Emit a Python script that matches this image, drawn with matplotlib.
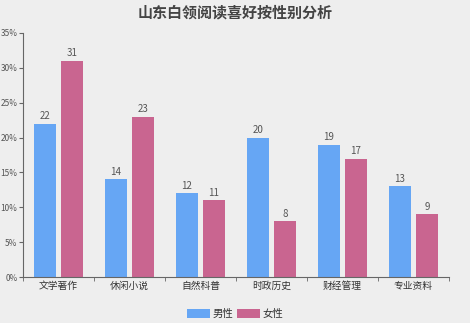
import matplotlib
matplotlib.use('Agg')
import matplotlib.pyplot as plt
import numpy as np

plt.rcParams['font.family'] = ['Noto Sans CJK SC', 'DejaVu Sans']

# reading preference by gender (%)
categories = ['文学著作', '休闲小说', '自然科普', '时政历史', '财经管理', '专业资料']
male = [22, 14, 12, 20, 19, 13]
female = [31, 23, 11, 8, 17, 9]
yticks = [0, 5, 10, 15, 20, 25, 30, 35]

c_male = '#66a6f4'
c_female = '#c96590'
bg = '#eeeeee'
txt = '#555555'

fig = plt.figure(figsize=(4.70, 3.23), dpi=100, facecolor=bg)
ax = fig.add_axes([0.049, 0.142, 0.906, 0.756], facecolor=bg)

x = np.arange(len(categories))
w = 0.31
gap = 0.035
b1 = ax.bar(x - w/2 - gap, male, w, color=c_male, label='男性')
b2 = ax.bar(x + w/2 + gap, female, w, color=c_female, label='女性')

for bars, vals in ((b1, male), (b2, female)):
    for b, v in zip(bars, vals):
        ax.text(b.get_x() + b.get_width()/2, v + 0.4, str(v), ha='center', va='bottom',
                fontsize=7, color=txt)

ax.set_xlim(-0.5, len(categories) - 0.5)
ax.set_ylim(0, 35)
ax.set_yticks(yticks)
ax.set_yticklabels([f'{t}%' for t in yticks], fontsize=6, color=txt)
ax.set_xticks(x)
ax.set_xticklabels(categories, fontsize=7, color='#333333')
ax.set_xticks(np.arange(-0.5, len(categories)), minor=True)
ax.tick_params(axis='x', which='major', length=0, pad=3)
ax.tick_params(axis='x', which='minor', length=3, color='#666666')
ax.tick_params(axis='y', length=3, color='#666666', pad=1)

for s in ['top', 'right']:
    ax.spines[s].set_visible(False)
ax.spines['left'].set_color('#666666')
ax.spines['bottom'].set_color('#666666')
ax.spines['left'].set_linewidth(0.8)
ax.spines['bottom'].set_linewidth(0.8)

fig.text(0.5, 0.962, '山东白领阅读喜好按性别分析', ha='center', va='center',
         fontsize=10.8, fontweight='bold', color='#444444')

fig.legend(handles=[b1, b2], loc='center', bbox_to_anchor=(0.5, 0.028), ncol=2,
           frameon=False, fontsize=7.5, handlelength=2.2, handleheight=0.9,
           handletextpad=0.2, columnspacing=0.4, labelcolor='#333333')

fig.savefig('out.png', dpi=100, facecolor=bg)
